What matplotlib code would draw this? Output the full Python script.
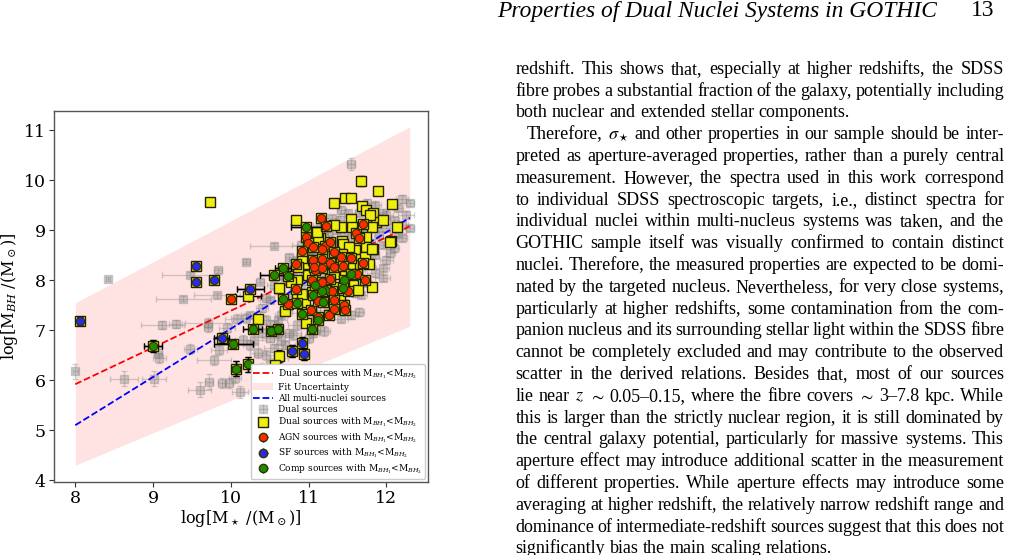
import matplotlib
matplotlib.use('Agg')
import matplotlib.pyplot as plt
from matplotlib.lines import Line2D
from matplotlib.patches import Patch

# ---------------- data ----------------
# grey: all dual sources
grey_x = [8.00, 8.42, 8.63, 9.01, 9.06, 9.08, 9.12, 9.29, 9.39, 9.47,
          9.48, 9.60, 9.72, 9.71, 9.71, 9.78, 9.83, 9.88, 9.98, 10.12,
          10.08, 10.20, 10.20, 10.55, 10.75, 10.37, 9.95, 9.85, 10.05, 10.25,
          10.15, 10.35, 9.82, 12.30, 12.20, 12.15, 12.25, 12.30, 12.20, 12.10,
          12.15, 12.00, 12.05, 11.95, 12.00, 11.90, 11.95, 11.85, 11.75, 11.65,
          11.60, 11.50, 11.40, 11.45, 11.35, 11.25, 11.20, 11.10, 11.05, 11.00,
          10.90, 10.85, 10.80, 10.70, 10.60, 10.50, 10.40, 10.45, 10.55, 10.65,
          10.75, 10.80, 10.90, 10.95, 11.00, 11.10, 11.20, 11.30, 11.40, 11.50,
          11.60, 11.70, 11.80, 11.85, 11.75, 11.65, 11.55, 11.45, 11.35, 11.25,
          11.15, 11.05, 10.95, 10.85, 10.75, 10.65, 10.55, 10.45, 10.50, 10.60,
          10.70, 10.80, 10.90, 11.00, 11.10, 11.20, 11.36, 11.67, 11.65, 11.41,
          11.55, 11.75, 11.85, 11.95, 12.05, 11.70, 11.80, 11.90, 12.00, 11.55,
          11.30, 11.15, 10.95, 10.85, 10.70, 10.60, 10.40, 10.30, 10.35, 10.25,
          10.45, 10.55, 10.65, 10.80, 10.95, 11.05, 11.15, 11.30, 11.42, 11.54,
          11.85, 12.10, 11.95, 11.60, 11.40, 11.25, 10.90, 10.50, 10.40, 10.62,
          11.05, 11.45, 11.75, 12.20]
grey_y = [6.18, 8.03, 6.03, 6.03, 6.55, 6.45, 7.11, 7.13, 7.63, 8.11,
          6.63, 5.81, 5.97, 7.15, 7.07, 6.41, 8.20, 5.95, 5.95, 5.77,
          7.23, 7.25, 8.37, 8.69, 8.47, 7.97, 7.05, 6.60, 6.05, 6.70,
          6.80, 6.55, 7.70, 9.55, 9.62, 9.45, 9.30, 9.05, 9.10, 9.20,
          8.95, 9.05, 8.55, 8.70, 8.40, 8.90, 9.35, 9.50, 9.55, 9.35,
          9.10, 9.35, 9.20, 8.95, 9.00, 8.90, 9.00, 8.95, 8.65, 8.55,
          8.70, 8.40, 8.20, 8.00, 7.80, 7.60, 7.45, 7.20, 7.10, 7.30,
          7.55, 7.75, 7.90, 8.10, 8.25, 8.45, 8.55, 8.70, 8.80, 8.70,
          8.55, 8.65, 8.75, 8.50, 8.30, 8.20, 8.05, 7.95, 7.85, 7.70,
          7.55, 7.40, 7.25, 7.10, 6.95, 6.80, 6.65, 6.50, 6.85, 6.95,
          6.70, 6.90, 6.60, 6.85, 7.00, 6.99, 7.67, 7.71, 7.37, 7.23,
          7.30, 7.95, 8.15, 8.25, 8.80, 9.00, 9.15, 9.25, 9.30, 8.85,
          8.35, 8.15, 7.75, 7.60, 7.40, 7.20, 6.95, 6.80, 7.05, 7.30,
          7.65, 7.90, 8.10, 8.35, 8.55, 8.80, 9.10, 9.25, 9.40, 10.33,
          9.05, 8.65, 8.05, 7.75, 7.45, 7.40, 7.35, 6.30, 6.25, 6.45,
          6.95, 7.55, 8.45, 8.85]
grey_xerr = [0.03, 0.03, 0.18, 0.15, 0.05, 0.08, 0.28, 0.08, 0.35, 0.35,
             0.08, 0.15, 0.05, 0.30, 0.05, 0.22, 0.05, 0.05, 0.05, 0.10,
             0.15, 0.20, 0.05, 0.30, 0.05, 0.05, 0.10, 0.10, 0.08, 0.10,
             0.10, 0.10, 0.30, 0.05, 0.08, 0.06, 0.10, 0.05, 0.08, 0.06,
             0.10, 0.08, 0.06, 0.10, 0.08, 0.06, 0.05, 0.08, 0.10, 0.06,
             0.08, 0.10, 0.06, 0.08, 0.12, 0.06, 0.08, 0.10, 0.06, 0.08,
             0.12, 0.08, 0.10, 0.15, 0.10, 0.12, 0.08, 0.15, 0.10, 0.08,
             0.12, 0.06, 0.10, 0.08, 0.06, 0.10, 0.08, 0.06, 0.10, 0.08,
             0.06, 0.10, 0.08, 0.06, 0.10, 0.08, 0.06, 0.10, 0.08, 0.12,
             0.06, 0.10, 0.08, 0.12, 0.15, 0.10, 0.12, 0.15, 0.10, 0.08,
             0.12, 0.10, 0.08, 0.06, 0.10, 0.08, 0.06, 0.08, 0.06, 0.10,
             0.08, 0.06, 0.10, 0.08, 0.06, 0.08, 0.06, 0.10, 0.08, 0.06,
             0.10, 0.08, 0.12, 0.10, 0.08, 0.12, 0.10, 0.15, 0.10, 0.12,
             0.10, 0.08, 0.12, 0.10, 0.08, 0.06, 0.10, 0.08, 0.06, 0.05,
             0.08, 0.06, 0.10, 0.08, 0.06, 0.10, 0.12, 0.10, 0.08, 0.12,
             0.08, 0.06, 0.08, 0.06]
grey_yerr = [0.15, 0.04, 0.15, 0.15, 0.10, 0.10, 0.08, 0.08, 0.05, 0.05,
             0.10, 0.15, 0.15, 0.10, 0.10, 0.10, 0.05, 0.10, 0.10, 0.12,
             0.10, 0.10, 0.05, 0.05, 0.05, 0.05, 0.10, 0.10, 0.10, 0.10,
             0.10, 0.10, 0.05, 0.06, 0.08, 0.06, 0.08, 0.06, 0.08, 0.06,
             0.08, 0.06, 0.08, 0.06, 0.08, 0.06, 0.08, 0.06, 0.08, 0.06,
             0.08, 0.06, 0.08, 0.06, 0.08, 0.06, 0.08, 0.06, 0.08, 0.06,
             0.08, 0.06, 0.08, 0.06, 0.08, 0.06, 0.08, 0.10, 0.08, 0.06,
             0.08, 0.06, 0.08, 0.06, 0.08, 0.06, 0.08, 0.06, 0.08, 0.06,
             0.08, 0.06, 0.08, 0.06, 0.08, 0.06, 0.08, 0.06, 0.08, 0.06,
             0.08, 0.06, 0.08, 0.10, 0.08, 0.10, 0.08, 0.10, 0.08, 0.10,
             0.08, 0.10, 0.08, 0.10, 0.08, 0.10, 0.08, 0.06, 0.08, 0.06,
             0.08, 0.06, 0.08, 0.06, 0.08, 0.06, 0.08, 0.06, 0.08, 0.06,
             0.08, 0.06, 0.08, 0.06, 0.08, 0.06, 0.08, 0.06, 0.08, 0.06,
             0.08, 0.06, 0.08, 0.06, 0.08, 0.06, 0.08, 0.06, 0.08, 0.12,
             0.06, 0.08, 0.06, 0.08, 0.06, 0.08, 0.06, 0.10, 0.08, 0.10,
             0.08, 0.06, 0.08, 0.06]

# yellow squares: dual sources with M_BH1 < M_BH2 (not classified below)
dual_x = [9.73, 11.67, 11.89, 11.47, 11.54, 11.33, 12.07, 10.84, 11.68, 11.74,
          11.83, 11.55, 11.86, 11.95, 11.81, 12.13, 11.42, 11.56, 12.06, 11.74,
          11.43, 11.59, 11.74, 11.83, 11.44, 11.62, 11.72, 11.34, 11.21, 11.27,
          11.57, 11.77, 11.00, 11.01, 10.22, 10.70, 10.85, 10.95, 10.97, 10.35,
          10.62, 10.57, 11.15, 12.05, 11.82, 11.79, 11.44, 11.52, 11.43, 11.53,
          11.47, 11.57, 11.63, 11.82, 11.33, 11.35, 11.12, 10.99, 10.99, 11.12,
          11.33, 11.11, 10.92, 10.86, 10.85, 10.77, 10.91, 11.04, 11.27, 11.32,
          11.40, 10.62]
dual_y = [9.57, 9.99, 9.79, 9.64, 9.64, 9.55, 9.52, 9.21, 9.48, 9.40,
          9.35, 9.23, 9.17, 9.21, 9.07, 9.07, 9.07, 9.07, 8.79, 8.87,
          8.79, 8.60, 8.67, 8.63, 8.60, 8.43, 8.47, 8.48, 8.33, 8.33,
          8.30, 8.33, 8.40, 8.27, 7.68, 7.39, 7.68, 7.57, 7.15, 7.23,
          6.49, 6.30, 8.85, 8.77, 8.63, 9.30, 8.73, 8.67, 8.53, 8.27,
          8.13, 7.91, 7.80, 7.87, 8.13, 7.87, 7.92, 8.10, 8.33, 8.83,
          9.10, 8.97, 8.45, 8.27, 8.00, 7.97, 7.73, 7.77, 7.73, 7.70,
          7.60, 7.85]
dual_xerr = [0.03, 0.03, 0.03, 0.03, 0.03, 0.03, 0.03, 0.05, 0.03, 0.03,
             0.03, 0.03, 0.03, 0.03, 0.03, 0.03, 0.03, 0.03, 0.03, 0.03,
             0.03, 0.03, 0.03, 0.03, 0.03, 0.03, 0.03, 0.03, 0.03, 0.03,
             0.03, 0.03, 0.03, 0.03, 0.17, 0.03, 0.03, 0.03, 0.03, 0.05,
             0.05, 0.03, 0.03, 0.03, 0.03, 0.03, 0.03, 0.03, 0.03, 0.03,
             0.03, 0.03, 0.03, 0.03, 0.03, 0.03, 0.03, 0.03, 0.03, 0.03,
             0.03, 0.03, 0.03, 0.03, 0.03, 0.03, 0.03, 0.03, 0.03, 0.03,
             0.03, 0.03]
dual_yerr = [0.05, 0.10, 0.05, 0.05, 0.05, 0.05, 0.05, 0.05, 0.05, 0.05,
             0.05, 0.05, 0.05, 0.05, 0.05, 0.05, 0.05, 0.05, 0.05, 0.05,
             0.05, 0.05, 0.05, 0.05, 0.05, 0.05, 0.05, 0.05, 0.05, 0.05,
             0.05, 0.05, 0.05, 0.05, 0.05, 0.05, 0.05, 0.05, 0.05, 0.05,
             0.12, 0.08, 0.05, 0.05, 0.05, 0.05, 0.05, 0.05, 0.05, 0.05,
             0.05, 0.05, 0.05, 0.05, 0.05, 0.05, 0.05, 0.05, 0.05, 0.05,
             0.05, 0.05, 0.05, 0.05, 0.05, 0.05, 0.05, 0.05, 0.05, 0.05,
             0.05, 0.05]

# AGN (red)
agn_x = [10.00, 11.16, 11.22, 10.97, 10.99, 10.92, 11.21, 11.27, 11.33, 11.17,
         11.06, 11.17, 10.84, 11.27, 11.33, 11.08, 11.17, 11.04, 11.17, 11.27,
         11.54, 11.61, 11.65, 11.70, 11.70, 11.62, 11.73, 10.84, 11.30, 11.50,
         10.74, 11.03, 11.12, 11.26, 11.45, 11.47, 11.33, 11.33, 11.12, 11.06,
         11.42, 11.44, 11.07]
agn_y = [7.63, 9.25, 9.08, 8.87, 8.75, 8.59, 8.68, 8.77, 8.57, 8.63,
         8.40, 8.43, 8.33, 8.35, 8.27, 8.20, 8.25, 8.00, 7.97, 8.02,
         8.45, 8.95, 8.85, 9.13, 8.35, 8.13, 8.00, 7.83, 7.78, 7.78,
         7.53, 7.41, 7.27, 7.31, 7.50, 7.41, 7.60, 7.43, 7.58, 8.67,
         8.47, 8.28, 8.27]
agn_xerr = [0.03, 0.03, 0.03, 0.03, 0.03, 0.03, 0.03, 0.03, 0.03, 0.03,
            0.03, 0.03, 0.03, 0.03, 0.03, 0.03, 0.03, 0.03, 0.03, 0.03,
            0.03, 0.03, 0.03, 0.03, 0.03, 0.03, 0.03, 0.03, 0.03, 0.03,
            0.03, 0.03, 0.03, 0.03, 0.03, 0.03, 0.03, 0.03, 0.03, 0.03,
            0.03, 0.03, 0.03]
agn_yerr = [0.06, 0.06, 0.06, 0.06, 0.06, 0.06, 0.06, 0.06, 0.06, 0.06,
            0.06, 0.06, 0.06, 0.06, 0.06, 0.06, 0.06, 0.06, 0.06, 0.06,
            0.06, 0.06, 0.06, 0.06, 0.06, 0.06, 0.06, 0.06, 0.06, 0.06,
            0.06, 0.06, 0.06, 0.06, 0.06, 0.06, 0.06, 0.06, 0.06, 0.06,
            0.06, 0.06, 0.06]

# SF (blue)
sf_x = [8.06, 9.55, 9.55, 9.78, 10.25, 9.88, 10.79, 10.92, 10.94]
sf_y = [7.18, 8.29, 7.97, 8.00, 7.83, 6.85, 6.59, 6.75, 6.53]
sf_xerr = [0.03, 0.03, 0.03, 0.03, 0.17, 0.10, 0.03, 0.03, 0.03]
sf_yerr = [0.08, 0.05, 0.05, 0.05, 0.05, 0.10, 0.12, 0.12, 0.12]

# Composite (green)
comp_x = [9.00, 10.97, 10.67, 10.55, 10.74, 10.67, 10.91, 11.06, 11.12, 11.19,
          11.04, 10.28, 10.52, 10.61, 10.03, 10.07, 10.22, 11.46, 11.21, 11.08,
          11.17, 10.85, 11.54, 11.44]
comp_y = [6.68, 9.07, 8.25, 8.11, 8.09, 7.63, 7.33, 7.71, 7.20, 7.57,
          7.02, 7.02, 6.98, 7.02, 6.73, 6.23, 6.32, 8.01, 7.80, 7.90,
          7.78, 7.55, 8.13, 7.85]
comp_xerr = [0.12, 0.20, 0.10, 0.17, 0.05, 0.03, 0.03, 0.03, 0.03, 0.03,
             0.03, 0.12, 0.05, 0.05, 0.25, 0.05, 0.03, 0.03, 0.03, 0.03,
             0.03, 0.03, 0.03, 0.03]
comp_yerr = [0.12, 0.05, 0.05, 0.05, 0.05, 0.05, 0.05, 0.05, 0.05, 0.05,
             0.08, 0.08, 0.08, 0.08, 0.08, 0.15, 0.15, 0.05, 0.05, 0.05,
             0.05, 0.05, 0.05, 0.05]

# fits (end points) and uncertainty band
fit_x = [8.0, 12.3]
fit_dual_y = [5.92, 9.08]
fit_all_y = [5.10, 9.25]
band_lo = [4.30, 7.08]
band_hi = [7.55, 11.07]

xticks = [8, 9, 10, 11, 12]
yticks = [4, 5, 6, 7, 8, 9, 10, 11]

header_title = "Properties of Dual Nuclei Systems in GOTHIC"
page_number = "13"
body_lines = [
    "redshift. This shows that, especially at higher redshifts, the SDSS",
    "fibre probes a substantial fraction of the galaxy, potentially including",
    "both nuclear and extended stellar components.",
    r"Therefore, $\sigma_\star$ and other properties in our sample should be inter-",
    "preted as aperture-averaged properties, rather than a purely central",
    "measurement. However, the spectra used in this work correspond",
    "to individual SDSS spectroscopic targets, i.e., distinct spectra for",
    "individual nuclei within multi-nucleus systems was taken, and the",
    "GOTHIC sample itself was visually confirmed to contain distinct",
    "nuclei. Therefore, the measured properties are expected to be domi-",
    "nated by the targeted nucleus. Nevertheless, for very close systems,",
    "particularly at higher redshifts, some contamination from the com-",
    "panion nucleus and its surrounding stellar light within the SDSS fibre",
    "cannot be completely excluded and may contribute to the observed",
    "scatter in the derived relations. Besides that, most of our sources",
    r"lie near $z$ $\sim$ 0.05–0.15, where the fibre covers $\sim$ 3–7.8 kpc. While",
    "this is larger than the strictly nuclear region, it is still dominated by",
    "the central galaxy potential, particularly for massive systems. This",
    "aperture effect may introduce additional scatter in the measurement",
    "of different properties. While aperture effects may introduce some",
    "averaging at higher redshift, the relatively narrow redshift range and",
    "dominance of intermediate-redshift sources suggest that this does not",
    "significantly bias the main scaling relations.",
]
para_end = [2, 22]
para_start = [3]

# ---------------- figure ----------------
W, H = 1011, 555
plt.rcParams['font.family'] = ['DejaVu Serif']
plt.rcParams['mathtext.fontset'] = 'dejavuserif'
fig = plt.figure(figsize=(W / 100, H / 100), dpi=100)
fig.patch.set_facecolor('white')

ax = fig.add_axes([54.3 / W, 1 - 481.7 / H, (427.7 - 54.3) / W, (481.7 - 110.7) / H])

ax.fill_between(fit_x, band_lo, band_hi, color='red', alpha=0.11, lw=0, zorder=1)

ax.errorbar(grey_x, grey_y, xerr=grey_xerr, yerr=grey_yerr, fmt='s', ms=6,
            color='grey', mfc='grey', mec='grey', ecolor='grey', alpha=0.35,
            elinewidth=1, capsize=2, zorder=2)

ax.plot(fit_x, fit_dual_y, '--', color='red', lw=1.3, zorder=3)
ax.plot(fit_x, fit_all_y, '--', color='blue', lw=1.3, zorder=3)

sq_x = dual_x + agn_x + sf_x + comp_x
sq_y = dual_y + agn_y + sf_y + comp_y
sq_xe = dual_xerr + agn_xerr + sf_xerr + comp_xerr
sq_ye = dual_yerr + agn_yerr + sf_yerr + comp_yerr
ax.errorbar(sq_x, sq_y, xerr=sq_xe, yerr=sq_ye, fmt='s', ms=7.3,
            mfc='#eeee10', mec='#222200', mew=1.0, ecolor='black',
            elinewidth=1, capsize=2, zorder=4)

for xs, ys, xe, ye, col in [(agn_x, agn_y, agn_xerr, agn_yerr, '#ff2a00'),
                            (sf_x, sf_y, sf_xerr, sf_yerr, '#2a2ae6'),
                            (comp_x, comp_y, comp_xerr, comp_yerr, '#1f8c00')]:
    ax.errorbar(xs, ys, xerr=xe, yerr=ye, fmt='o', ms=6, mfc=col, mec='#333300',
                mew=0.8, ecolor='black', elinewidth=1, capsize=2, zorder=5)

ax.set_xlim(7.73, 12.53)
ax.set_ylim(3.97, 11.39)
ax.set_xticks(xticks)
ax.set_yticks(yticks)
ax.tick_params(labelsize=12.5, length=3.5, width=0.8, color='#333333', pad=2.5)
for s in ax.spines.values():
    s.set_color('#555555')
    s.set_linewidth(1.0)
ax.set_xlabel(r'log[M$_\star$ /(M$_\odot$)]', fontsize=11.6, labelpad=1)
ax.set_ylabel(r'log[M$_{BH}$ /(M$_\odot$)]', fontsize=11.6, labelpad=3)

lab = r'M$_{BH_1}$<M$_{BH_2}$'
def eb_handle(marker, fc, ec, ecol, ms, alpha=1.0):
    return ax.errorbar([], [], xerr=[], yerr=[], fmt=marker, ms=ms, mfc=fc, mec=ec,
                       ecolor=ecol, capsize=2, elinewidth=1, alpha=alpha)

handles = [
    Line2D([], [], ls='--', color='red', lw=1.3),
    Patch(facecolor='red', alpha=0.11, lw=0),
    Line2D([], [], ls='--', color='blue', lw=1.3),
    eb_handle('s', 'grey', 'grey', 'grey', 6, 0.35),
    eb_handle('s', '#eeee10', '#222200', 'black', 7),
    eb_handle('o', '#ff2a00', '#333300', 'black', 6),
    eb_handle('o', '#2a2ae6', '#333300', 'black', 6),
    eb_handle('o', '#1f8c00', '#333300', 'black', 6),
]
labels = ['Dual sources with ' + lab, 'Fit Uncertainty', 'All multi-nuclei sources',
          'Dual sources', 'Dual sources with ' + lab, 'AGN sources with ' + lab,
          'SF sources with ' + lab, 'Comp sources with ' + lab]
leg = ax.legend(handles, labels, loc='lower right', fontsize=6.5, frameon=True,
                framealpha=1, edgecolor='#cccccc', fancybox=True,
                borderpad=0.3, labelspacing=0.22, handlelength=2.2,
                handletextpad=0.5, borderaxespad=0.35)
leg.set_zorder(10)

# ---------------- page text (right column) ----------------
renderer = fig.canvas.get_renderer()

def measure(s, **kw):
    t = fig.text(0, 0, s, **kw)
    w = t.get_window_extent(renderer=renderer).width
    t.remove()
    return w

serif = ['Liberation Serif', 'DejaVu Serif']
ref = measure(body_lines[2], family=serif, size=12, math_fontfamily='stix')
body_size = 12 * 332.5 / ref
ref_h = measure(header_title, family=serif, size=14, style='italic')
head_size = 14 * 441.0 / ref_h

fig.text(497 / W, 1 - 16.5 / H, header_title, family=serif, style='italic',
         size=head_size, ha='left', va='baseline')
fig.text(994 / W, 1 - 16.5 / H, page_number, family=serif, size=head_size,
         ha='right', va='baseline')

x_left, x_right, indent = 515.5, 1004.0, 11.5
base0, step = 73.8, 21.8
space_w = measure('a a', family=serif, size=body_size) - 2 * measure('a', family=serif, size=body_size)
for i, line in enumerate(body_lines):
    words = line.split(' ')
    widths = [measure(wd, family=serif, size=body_size, math_fontfamily='stix') for wd in words]
    xl = x_left + (indent if i in para_start else 0)
    if i in para_end or len(words) == 1:
        gap = space_w
    else:
        gap = (x_right - xl - sum(widths)) / (len(words) - 1)
    x = xl
    yb = base0 + i * step
    for wd, w in zip(words, widths):
        fig.text(x / W, 1 - yb / H, wd, family=serif, size=body_size,
                 math_fontfamily='stix', ha='left', va='baseline')
        x += w + gap

fig.savefig('out.png', dpi=100)
